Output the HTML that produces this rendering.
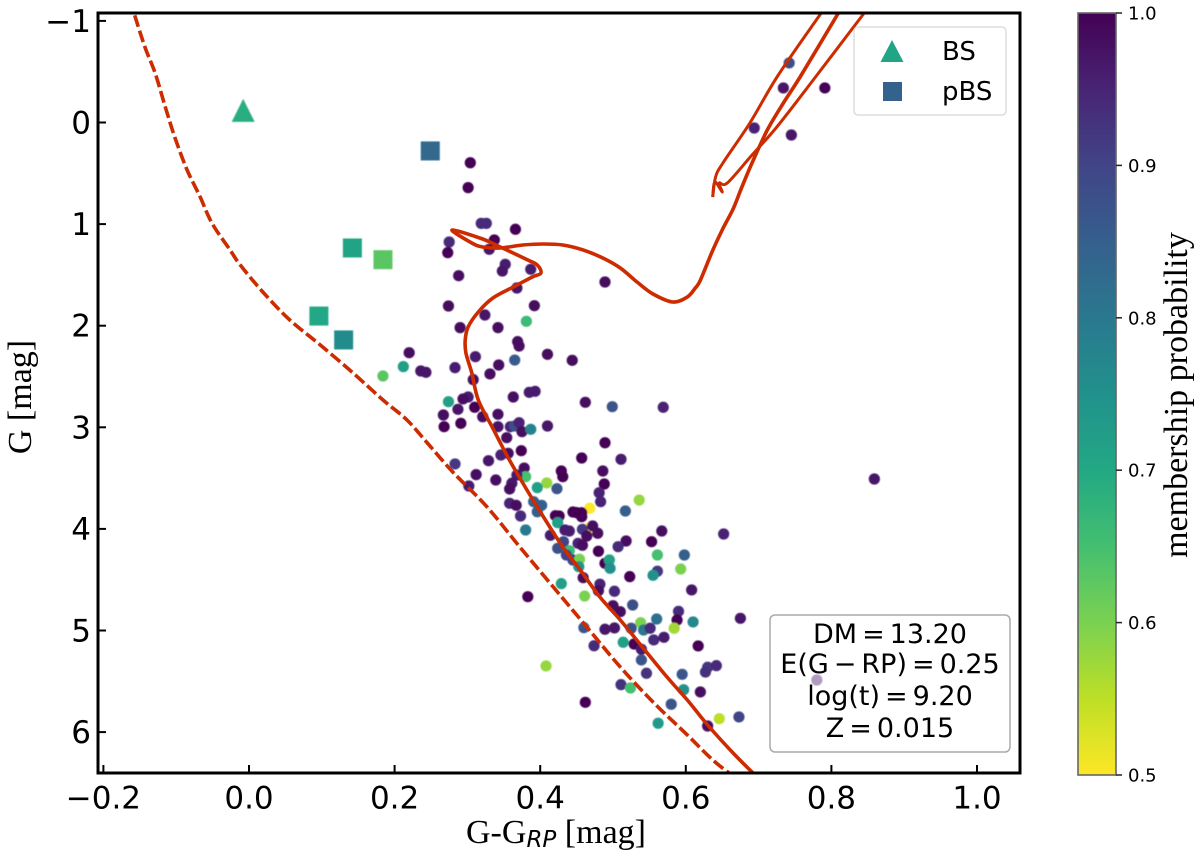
<!DOCTYPE html>
<html lang="en">
<head>
<meta charset="utf-8">
<title>Colour-magnitude diagram</title>
<style>
html,body{margin:0;padding:0;background:#fff;width:1200px;height:859px;overflow:hidden}
svg{display:block}
text{font-family:"DejaVu Sans","Liberation Sans",sans-serif;fill:#000}
.serif{font-family:"Liberation Serif","DejaVu Serif",serif}
.boxtext{word-spacing:-3.6px}
</style>
</head>
<body>
<svg id="chart" xmlns="http://www.w3.org/2000/svg" width="1200" height="859" viewBox="0 0 1200 859">
  <defs>
    <clipPath id="plot-clip"><rect x="98" y="13" width="922" height="760"/></clipPath>
    <linearGradient id="cbar-gradient" x1="0" y1="0" x2="0" y2="1"></linearGradient>
    <filter id="soft" x="-5%" y="-5%" width="110%" height="110%"><feGaussianBlur stdDeviation="0.4"/></filter>
  </defs>
  <rect x="0" y="0" width="1200" height="859" fill="#fff"/>
  <g id="members" filter="url(#soft)"></g>
  <g id="curves" clip-path="url(#plot-clip)"></g>
  <g id="stragglers" filter="url(#soft)"></g>
  <g id="frame"></g>
  <g id="colorbar"></g>

  <text class="serif" x="466" y="843" font-size="34">G-G<tspan font-family="DejaVu Sans" font-style="italic" font-size="23" dy="4">RP</tspan><tspan dy="-4"> [mag]</tspan></text>
  <text class="serif" transform="translate(31,397) rotate(-90)" text-anchor="middle" font-size="34">G [mag]</text>
  <text class="serif" transform="translate(1187,395) rotate(-90)" text-anchor="middle" font-size="34">membership probability</text>

  <g>
    <rect x="854" y="27" width="152" height="88" rx="4" fill="#fff" fill-opacity="0.85" stroke="#ddd" stroke-width="1.5"/>
    <polygon points="892,40 880.5,62 903.5,62" fill="#21a585"/>
    <rect x="883" y="82" width="19" height="19" fill="#33638d"/>
    <text x="942" y="60" font-size="26">BS</text>
    <text x="942" y="100" font-size="26">pBS</text>
  </g>

  <g>
    <rect x="770" y="615" width="240" height="137" rx="5" fill="#fff" fill-opacity="0.55" stroke="#aaa" stroke-width="1.5"/>
    <text class="boxtext" x="890" y="643" font-size="27" text-anchor="middle">DM = 13.20</text>
    <text class="boxtext" x="890" y="673" font-size="27" text-anchor="middle">E(G − RP) = 0.25</text>
    <text class="boxtext" x="890" y="705" font-size="27" text-anchor="middle">log(t) = 9.20</text>
    <text class="boxtext" x="890" y="737" font-size="27" text-anchor="middle">Z = 0.015</text>
  </g>
</svg>
<script>
// Tick labels
const xTicks = [-0.2, 0.0, 0.2, 0.4, 0.6, 0.8, 1.0];
const yTicks = [-1, 0, 1, 2, 3, 4, 5, 6];
const cbarTicks = [0.5, 0.6, 0.7, 0.8, 0.9, 1.0];

// Cluster members: colour index, G magnitude, membership probability
const memberColor = [
 .304,.301,.319,.326,.366,.275,.337,.273,.330,.352,.348,.387,.288,.489,.368,.274,.392,.324,.381,.290,
 .342,.369,.371,.220,.311,.410,.365,.444,.212,.283,.236,.243,.343,.331,.308,.274,.301,.294,.363,.385,
 .393,.462,.499,.569,.184,.267,.287,.321,.342,.310,.268,.291,.342,.359,.365,.371,.375,.387,.410,.354,
 .374,.356,.346,.329,.283,.457,.489,.511,.378,.380,.368,.312,.302,.339,.361,.358,.409,.396,.423,.429,
 .431,.486,.488,.481,.483,.536,.517,.468,.467,.391,.402,.396,.358,.367,.373,.380,.421,.426,.424,.445,
 .450,.457,.457,.472,.458,.479,.464,.414,.434,.440,.518,.507,.553,.567,.652,.598,.561,.593,.424,.432,
 .440,.436,.445,.454,.452,.458,.480,.489,.495,.496,.453,.561,.555,.523,.459,.429,.482,.480,.502,.608,
 .461,.383,.500,.510,.527,.590,.588,.560,.610,.675,.538,.584,.525,.542,.551,.460,.489,.502,.514,.556,
 .570,.474,.529,.539,.617,.539,.546,.595,.630,.642,.627,.408,.511,.524,.597,.620,.462,.580,.562,.646,
 .673,.630,.742,.734,.791,.694,.745,.859,.780];
const memberMag = [
 .396,.641,.993,.993,1.051,1.176,1.156,1.281,1.248,1.396,1.462,1.445,1.508,1.570,1.629,1.806,1.803,1.895,1.957,2.019,
 2.019,2.157,2.200,2.266,2.305,2.282,2.338,2.341,2.403,2.413,2.446,2.459,2.387,2.475,2.531,2.748,2.702,2.721,2.702,2.656,
 2.646,2.754,2.797,2.803,2.495,2.879,2.823,2.896,2.872,2.803,2.994,2.961,2.994,2.994,2.987,2.955,3.043,3.020,2.987,3.102,
 3.230,3.256,3.273,3.329,3.361,3.302,3.152,3.315,3.401,3.486,3.470,3.466,3.578,3.519,3.551,3.607,3.548,3.594,3.604,3.430,
 3.486,3.430,3.558,3.644,3.732,3.716,3.824,3.797,3.991,3.732,3.768,3.831,3.748,3.768,3.873,4.011,3.870,3.873,3.939,3.834,
 3.840,3.841,3.880,3.971,4.004,4.043,4.070,4.063,4.011,4.021,4.119,4.175,4.126,4.021,4.050,4.257,4.257,4.395,4.191,4.126,
 4.215,4.257,4.306,4.299,4.142,4.161,4.220,4.339,4.306,4.388,4.372,4.417,4.457,4.470,4.480,4.539,4.545,4.608,4.614,4.601,
 4.661,4.667,4.756,4.815,4.749,4.811,4.897,4.887,4.916,4.880,4.923,4.978,4.978,4.995,4.978,4.972,4.988,4.975,5.116,5.093,
 5.067,5.150,5.133,5.185,5.152,5.290,5.421,5.431,5.362,5.346,5.409,5.349,5.533,5.566,5.583,5.605,5.707,5.726,5.913,5.868,
 5.851,5.940,-.586,-.340,-.340,.054,.123,3.509,5.487];
const memberProb = [
 1,1,.94,.94,1,.94,1,1,.97,.96,.97,.96,.98,.99,.97,.99,.99,.97,.66,.99,
 .98,.98,.98,.98,.96,.99,.86,.99,.72,.96,.97,.97,.98,.98,.98,.72,.96,.98,.98,.96,
 .96,.98,.87,.95,.63,.98,.97,.98,.98,1,1,1,.97,.95,.88,.95,.98,.78,.97,.98,
 1,.98,.95,.97,.92,1,1,.96,.98,.65,.96,.98,.96,.98,.97,.98,.58,.72,.87,1,
 1,.98,1,.95,.95,.58,.85,.5,.5,.85,.85,.85,.95,.98,.94,.8,1,1,.72,1,
 1,1,1,.98,.92,.98,.98,.96,.96,.96,.98,.94,1,.98,.95,.85,.65,.6,.88,.9,
 .66,.9,.9,.6,.95,.98,1,1,.72,.75,.75,.92,.75,1,.98,.72,.95,.98,.94,.97,
 .6,1,.98,.98,.88,.94,1,.82,.77,.97,.6,.57,.88,.8,.94,.87,.97,.97,.72,.94,
 .96,.94,1,.96,1,.87,.93,.87,.92,.94,.93,.58,.93,.65,.75,.98,1,.87,.73,.55,
 .9,.98,.88,.97,1,.95,.97,.97,.95];

// Blue stragglers
const bsColor = [-0.008];
const bsMag = [-0.11];
const bsProb = [0.69];
const pbsColor = [0.249, 0.142, 0.184, 0.096, 0.130];
const pbsMag = [0.28, 1.235, 1.35, 1.905, 2.14];
const pbsProb = [0.83, 0.71, 0.63, 0.70, 0.76];

// Isochrone (solid): main sequence through turn-off, subgiant and giant branch
const isoColor = [.695,.665,.630,.602,.574,.547,.510,.482,.455,.431,.396,.368,.354,.334,.315,.306,.298,.297,.301,.315,.335,.363,.389,.401,.396,.383,.345,.321,.279,.306,.321,.345,.376,.404,.431,.459,.486,.510,.533,.555,.582,.602,.613,.620,.636,.650,.665,.677,.691,.712,.734,.757,.808,.821];
const isoMag = [6.422,6.206,5.930,5.684,5.457,5.221,4.897,4.670,4.404,4.178,3.784,3.450,3.273,2.997,2.731,2.466,2.269,2.141,2.013,1.865,1.727,1.619,1.521,1.481,1.403,1.353,1.225,1.147,1.058,1.186,1.225,1.235,1.206,1.196,1.206,1.255,1.334,1.432,1.570,1.688,1.767,1.718,1.629,1.551,1.275,1.058,.851,.635,.399,.074,-.192,-.448,-1.058,-1.206];
const hookRightColor = [.637,.640,.650,.646,.657,.691,.725,.775,.843,.860];
const hookRightMag = [.733,.586,.684,.595,.595,.320,.044,-.418,-1.058,-1.206];
const hookLeftColor = [.637,.641,.651,.688,.727,.784,.798];
const hookLeftMag = [.733,.536,.399,.005,-.468,-1.058,-1.206];

// Equal-mass binary sequence (dashed)
const binaryColor = [-.163,-.158,-.143,-.129,-.115,-.102,-.085,-.067,-.051,-.026,-.012,.019,.056,.098,.143,.184,.217,.245,.280,.327,.372,.418,.464,.510,.555,.602,.637,.663];
const binaryMag = [-1.206,-1.078,-.743,-.487,-.153,.143,.468,.733,.989,1.255,1.403,1.668,1.944,2.190,2.466,2.731,2.928,3.155,3.440,3.784,4.178,4.572,4.966,5.359,5.704,6.028,6.274,6.422];

const viridis = ['#440154','#482475','#414487','#355f8d','#2a788e','#21918c','#22a884','#44bf70','#7ad151','#bddf26','#fde725'];

const SVGNS = 'http://www.w3.org/2000/svg';
const xScale = v => 249 + 728 * v;
const yScale = v => 122.5 + 101.6 * v;
const cScale = v => 13 + (1 - v) * 1524;

function hexToRgb(h){ return [1,3,5].map(i => parseInt(h.substr(i,2),16)); }
function probColor(p){
  const t = Math.min(1, Math.max(0, (1 - p) / 0.5)) * (viridis.length - 1);
  const i = Math.min(viridis.length - 2, Math.floor(t));
  const a = hexToRgb(viridis[i]), b = hexToRgb(viridis[i+1]), f = t - i;
  return 'rgb(' + a.map((c,k) => Math.round(c + (b[k]-c)*f)).join(',') + ')';
}
function make(tag, attrs, parent){
  const el = document.createElementNS(SVGNS, tag);
  for (const k in attrs) el.setAttribute(k, attrs[k]);
  parent.appendChild(el);
  return el;
}
// Smooth spline through the data points (Catmull-Rom converted to Beziers)
function smoothPath(xs, ys){
  const px = xs.map(xScale), py = ys.map(yScale), n = px.length;
  let d = 'M' + px[0].toFixed(1) + ' ' + py[0].toFixed(1);
  for (let i = 0; i < n - 1; i++){
    const a = Math.max(0, i - 1), b = Math.min(n - 1, i + 2);
    const c1x = px[i] + (px[i+1] - px[a]) / 6, c1y = py[i] + (py[i+1] - py[a]) / 6;
    const c2x = px[i+1] - (px[b] - px[i]) / 6, c2y = py[i+1] - (py[b] - py[i]) / 6;
    d += ' C' + c1x.toFixed(1) + ' ' + c1y.toFixed(1) + ' ' + c2x.toFixed(1) + ' ' + c2y.toFixed(1) + ' ' + px[i+1].toFixed(1) + ' ' + py[i+1].toFixed(1);
  }
  return d;
}
const fmt = v => (v < 0 ? '\u2212' : '') + Math.abs(v).toFixed(1);

// Member points
const membersG = document.getElementById('members');
memberColor.forEach((c,i) => {
  const dot = make('circle', {cx: xScale(c), cy: yScale(memberMag[i]), r: 5.6, fill: probColor(memberProb[i])}, membersG);
  
  
});

// Isochrones
const curvesG = document.getElementById('curves');
const curveStyle = {fill: 'none', stroke: '#cc2c00', 'stroke-width': 3.6, 'stroke-linejoin': 'round'};
const iso = make('path', Object.assign({d: smoothPath(isoColor, isoMag)}, curveStyle), curvesG);


const hookR = make('path', Object.assign({d: smoothPath(hookRightColor, hookRightMag)}, curveStyle, {'stroke-width': 3}), curvesG);


const hookL = make('path', Object.assign({d: smoothPath(hookLeftColor, hookLeftMag)}, curveStyle, {'stroke-width': 3}), curvesG);


const binary = make('path', Object.assign({d: smoothPath(binaryColor, binaryMag), 'stroke-dasharray': '12 4'}, curveStyle), curvesG);



// Blue stragglers
const strG = document.getElementById('stragglers');
bsColor.forEach((c,i) => {
  const x = xScale(c), y = yScale(bsMag[i]);
  const tri = make('polygon', {points: x + ',' + (y-12.5) + ' ' + (x-11.5) + ',' + (y+10.5) + ' ' + (x+11.5) + ',' + (y+10.5), fill: probColor(bsProb[i])}, strG);
  
  
});
pbsColor.forEach((c,i) => {
  const sq = make('rect', {x: xScale(c) - 9.5, y: yScale(pbsMag[i]) - 9.5, width: 19, height: 19, fill: probColor(pbsProb[i])}, strG);
  
  
});

// Axes frame and ticks
const frameG = document.getElementById('frame');
const box = make('rect', {x: 98, y: 13, width: 922, height: 760, fill: 'none', stroke: '#000', 'stroke-width': 3}, frameG);


xTicks.forEach(v => {
  const x = xScale(v);
  const t = make('line', {x1: x, x2: x, y1: 773, y2: 765, stroke: '#000', 'stroke-width': 2}, frameG);
  
  
  const l = make('text', {x: x, y: 808.5, 'font-size': 31, 'text-anchor': 'middle'}, frameG);
  l.textContent = fmt(v);
  
  
});
yTicks.forEach(v => {
  const y = yScale(v);
  const t = make('line', {x1: 98, x2: 106, y1: y, y2: y, stroke: '#000', 'stroke-width': 2}, frameG);
  
  
  const l = make('text', {x: 91, y: y + 11, 'font-size': 31, 'text-anchor': 'end'}, frameG);
  l.textContent = (v < 0 ? '\u2212' : '') + Math.abs(v);
  
  
});

// Colorbar
const grad = document.getElementById('cbar-gradient');
viridis.forEach((c,i) => make('stop', {offset: i / (viridis.length - 1), 'stop-color': c}, grad));
const cbarG = document.getElementById('colorbar');
const bar = make('rect', {x: 1078, y: cScale(1), width: 38, height: cScale(0.5) - cScale(1), fill: 'url(#cbar-gradient)', stroke: '#666', 'stroke-width': 1.6}, cbarG);


cbarTicks.forEach(v => {
  const y = cScale(v);
  const t = make('line', {x1: 1116, x2: 1122, y1: y, y2: y, stroke: '#222', 'stroke-width': 1.5}, cbarG);
  
  
  const l = make('text', {x: 1128, y: y + 6.5, 'font-size': 18}, cbarG);
  l.textContent = v.toFixed(1);
  
  
});
</script>
</body>
</html>
